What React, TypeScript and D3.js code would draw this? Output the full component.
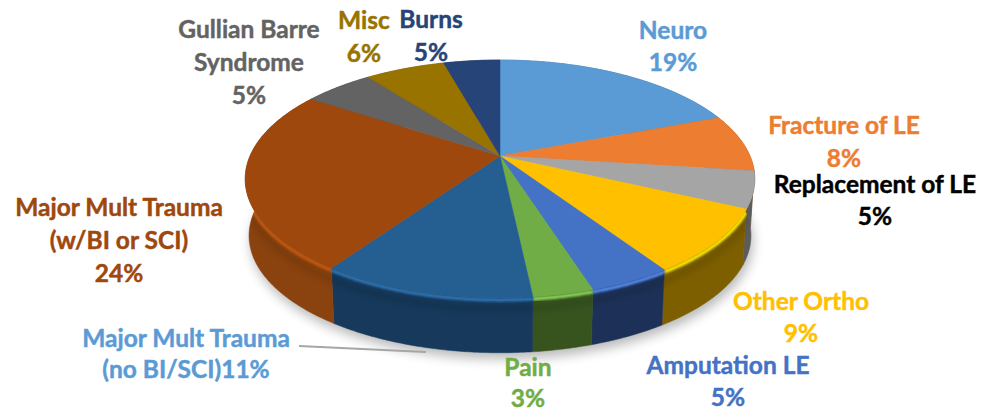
import React, { useEffect, useRef } from "react";
import * as d3 from "d3";

const categories = [
  "Neuro",
  "Fracture of LE",
  "Replacement of LE",
  "Other Ortho",
  "Amputation LE",
  "Pain",
  "Major Mult Trauma (no BI/SCI)",
  "Major Mult Trauma (w/BI or SCI)",
  "Gullian Barre Syndrome",
  "Misc",
  "Burns",
];
// slice sizes, the printed labels are rounded
const values = [19.2, 7.8, 5, 8.7, 4.4, 3.2, 11.3, 24.7, 5.3, 6.1, 4.3];
const colors = [
  "#5B9BD5",
  "#ED7D31",
  "#A5A5A5",
  "#FFC000",
  "#4472C4",
  "#70AD47",
  "#255E91",
  "#9E480E",
  "#636363",
  "#997300",
  "#264478",
];
const sideColors = [
  "#3c6a94",
  "#a5561f",
  "#5c5c5c",
  "#7d5f00",
  "#1d3158",
  "#37541f",
  "#16395c",
  "#8a420e",
  "#444444",
  "#6a5000",
  "#1a2f55",
];
const labelLines = [
  ["Neuro", "19%"],
  ["Fracture of LE", "8%"],
  ["Replacement of LE", "5%"],
  ["Other Ortho", "9%"],
  ["Amputation LE", "5%"],
  ["Pain", "3%"],
  ["Major Mult Trauma", "(no BI/SCI)11%"],
  ["Major Mult Trauma", "(w/BI or SCI)", "24%"],
  ["Gullian Barre", "Syndrome", "5%"],
  ["Misc", "6%"],
  ["Burns", "5%"],
];
const labelColors = [
  "#5B9BD5",
  "#ED7D31",
  "#000000",
  "#FFC000",
  "#4472C4",
  "#70AD47",
  "#5B9BD5",
  "#9E480E",
  "#636363",
  "#997300",
  "#264478",
];
const labelX = [673, 844, 875, 801, 728, 528, 186, 119, 249, 364, 431];
const labelY = [39, 134, 193, 310, 374, 376, 347, 216, 38, 29, 28];
const lineGap = [32, 33, 32, 32, 32, 31, 31, 33, 33, 33, 33];

const width = 981;
const height = 411;
const cx = 500;
const cy = 156;
const radius = 250;
const tilt = 114.5; // vertical squash of the disc
const persp = 0.193; // front of the disc is bigger than the back
const depth = 57;
const bottomScale = 0.985;
const rimFrom = Math.PI * 0.6;
const rimTo = Math.PI * 1.46;

// angle (0 = top, clockwise) to screen position on the tilted disc
const project = (a: number, r = 1): [number, number] => {
  const u = Math.sin(a) * r;
  const v = -Math.cos(a) * r;
  const w = 1 - persp * v;
  return [cx + (u * radius) / w, cy + (v * tilt) / w];
};
const projectBottom = (a: number): [number, number] => {
  const [x, y] = project(a);
  return [cx + (x - cx) * bottomScale, cy + (y - cy) * bottomScale + depth];
};
const arcAngles = (a0: number, a1: number) => {
  const n = Math.max(2, Math.ceil((a1 - a0) / 0.01));
  return d3.range(n + 1).map((i) => a0 + ((a1 - a0) * i) / n);
};

const App = () => {
  const ref = useRef<SVGSVGElement | null>(null);

  useEffect(() => {
    const svg = d3.select(ref.current);
    svg.selectAll("*").remove();

    const defs = svg.append("defs");
    const blur = (id: string, sd: number) =>
      defs
        .append("filter")
        .attr("id", id)
        .attr("x", "-20%")
        .attr("y", "-20%")
        .attr("width", "140%")
        .attr("height", "140%")
        .append("feGaussianBlur")
        .attr("stdDeviation", sd);
    blur("shadowBlur", 6);
    blur("edgeBlur", 1.2);
    blur("wallBlur", 3);

    const slices = d3
      .pie<number>()
      .sort(null)
      .value((d) => d)(values);
    const line = d3.line();
    const all = arcAngles(0, Math.PI * 2);
    const wallPath = (a0: number, a1: number) => {
      const angles = arcAngles(a0, a1);
      const pts = angles.map((a) => project(a)).concat(angles.slice().reverse().map(projectBottom));
      return line(pts) + "Z";
    };
    const rimSlices = slices.filter((d) => d.endAngle > rimFrom && d.startAngle < rimTo);

    defs
      .append("clipPath")
      .attr("id", "wallClip")
      .append("path")
      .attr("d", wallPath(0, Math.PI * 2));

    // soft shadow under the disc
    svg
      .append("path")
      .attr("d", line(all.map((a) => {
        const [x, y] = projectBottom(a);
        return [x + 2, y + 6] as [number, number];
      })) + "Z")
      .attr("fill", "#000")
      .attr("opacity", 0.28)
      .attr("filter", "url(#shadowBlur)");

    // side walls
    svg
      .append("g")
      .selectAll("path")
      .data(slices)
      .enter()
      .append("path")
      .attr("d", (d) => wallPath(d.startAngle, d.endAngle))
      .attr("fill", (d, i) => sideColors[i])
      .attr("stroke", (d, i) => sideColors[i])
      .attr("stroke-width", 0.5);

    // darker band under the rim, then a lighter bevel on the wall's top edge
    const wallShade = svg.append("g").attr("clip-path", "url(#wallClip)");
    wallShade
      .append("path")
      .attr("d", line(arcAngles(rimFrom, rimTo).map((a) => {
        const [x, y] = project(a);
        return [x, y + 11] as [number, number];
      })))
      .attr("fill", "none")
      .attr("stroke", "#000")
      .attr("stroke-opacity", 0.12)
      .attr("stroke-width", 7)
      .attr("filter", "url(#wallBlur)");
    wallShade
      .append("g")
      .selectAll("path")
      .data(rimSlices)
      .enter()
      .append("path")
      .attr("d", (d) => line(arcAngles(Math.max(d.startAngle, rimFrom), Math.min(d.endAngle, rimTo)).map((a) => {
        const [x, y] = project(a);
        return [x, y + 2] as [number, number];
      })))
      .attr("fill", "none")
      .attr("stroke", (d) => d3.color(colors[d.index])!.brighter(0.6).formatHex())
      .attr("stroke-width", 3.5)
      .attr("filter", "url(#edgeBlur)");

    // top faces
    svg
      .append("g")
      .selectAll("path")
      .data(slices)
      .enter()
      .append("path")
      .attr("d", (d) => line([[cx, cy] as [number, number]].concat(arcAngles(d.startAngle, d.endAngle).map((a) => project(a)))) + "Z")
      .attr("fill", (d, i) => colors[i])
      .attr("stroke", (d, i) => colors[i])
      .attr("stroke-width", 0.5);

    // leader line for the no BI/SCI label
    svg
      .append("path")
      .attr("d", line([[299, 346], [426, 352]]))
      .attr("stroke", "#A6A6A6")
      .attr("stroke-width", 2)
      .attr("fill", "none");

    const labels = svg
      .append("g")
      .selectAll("text")
      .data(categories)
      .enter()
      .append("text")
      .attr("text-anchor", "middle")
      .attr("font-family", "Lato, sans-serif")
      .attr("font-weight", 700)
      .attr("font-size", 24.5)
      .attr("stroke-width", 0.45)
      .attr("fill", (d, i) => labelColors[i])
      .attr("stroke", (d, i) => labelColors[i]);
    labels
      .selectAll("tspan")
      .data((d, i) => labelLines[i].map((t, j) => ({ t, x: labelX[i], y: labelY[i] + j * lineGap[i] })))
      .enter()
      .append("tspan")
      .attr("x", (d) => d.x)
      .attr("y", (d) => d.y)
      .text((d) => d.t);
  }, []);

  return (
    <svg
      ref={ref}
      width={width}
      height={height}
      viewBox={`0 0 ${width} ${height}`}
      style={{ position: "absolute", left: 0, top: 0, background: "#fff" }}
    />
  );
};

export default App;
